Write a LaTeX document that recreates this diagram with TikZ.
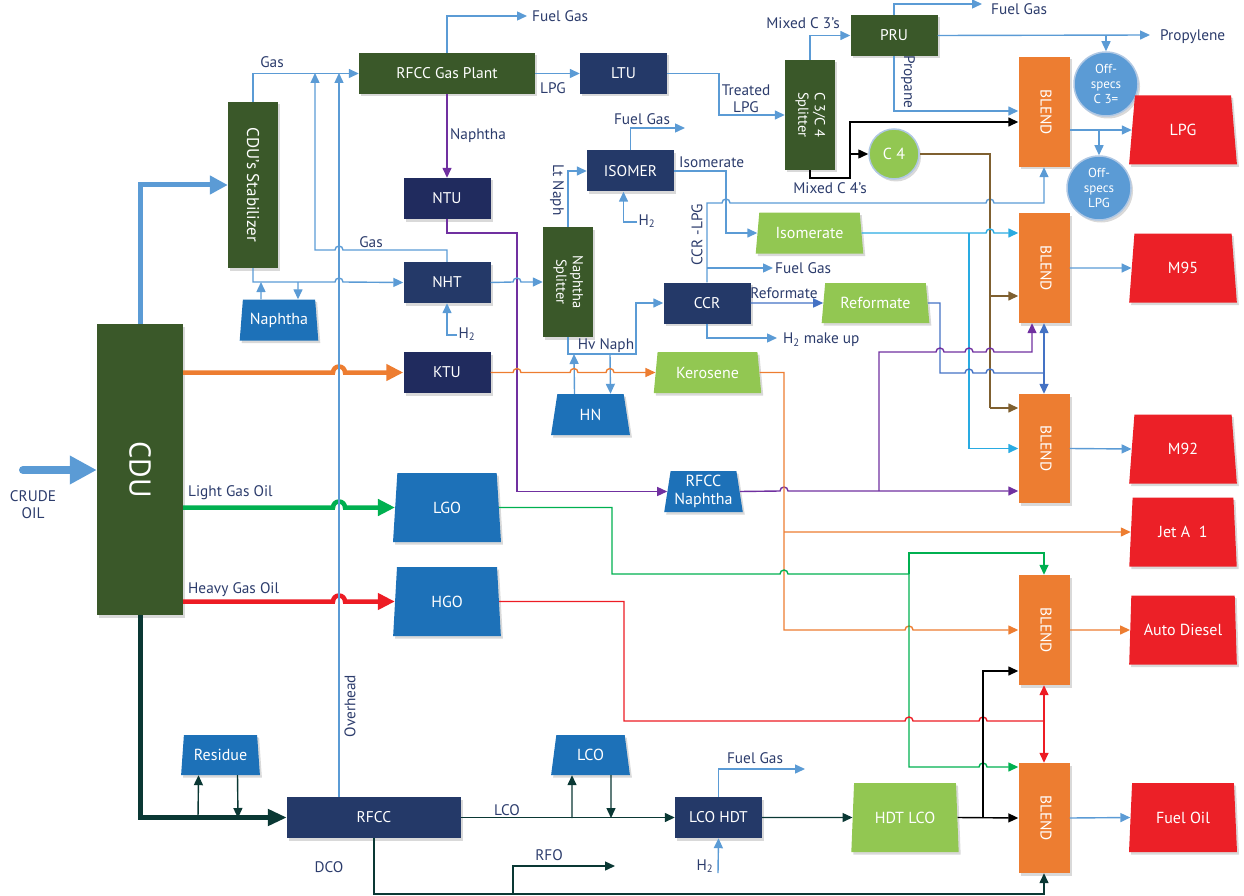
\documentclass[tikz,border=0pt]{standalone}
\usepackage{fontspec}
\setmainfont{PT Sans}
\usepackage{graphicx}
\usetikzlibrary{arrows.meta,positioning,shapes.geometric,shadows,calc}

% colours of the units and of the streams
\definecolor{colgreen}{RGB}{58,88,41}
\definecolor{unitnavy}{RGB}{36,57,104}
\definecolor{ntunavy}{RGB}{32,43,94}
\definecolor{tankblue}{RGB}{29,113,184}
\definecolor{prodgreen}{RGB}{146,199,82}
\definecolor{blendorange}{RGB}{237,125,49}
\definecolor{salered}{RGB}{236,32,39}
\definecolor{ballblue}{RGB}{91,155,213}
\definecolor{ballrim}{RGB}{176,200,228}
\definecolor{pipeblue}{RGB}{91,155,213}
\definecolor{refblue}{RGB}{68,114,196}
\definecolor{isocyan}{RGB}{41,171,226}
\definecolor{nphpurple}{RGB}{112,48,160}
\definecolor{cfourbrown}{RGB}{127,96,48}
\definecolor{kerorange}{RGB}{237,125,49}
\definecolor{lgogreen}{RGB}{0,176,80}
\definecolor{hgored}{RGB}{237,28,36}
\definecolor{resdark}{RGB}{10,56,52}
\definecolor{labelnavy}{RGB}{44,60,108}

\newcommand{\vtext}[1]{\rotatebox{-90}{\begin{tabular}{@{}c@{}}#1\end{tabular}}}
% small hops where a line crosses another one
\newcommand{\hop}[2]{-- (#1-4,#2) arc[start angle=180,end angle=0,radius=4pt]}
\newcommand{\hopl}[2]{-- (#1+4,#2) arc[start angle=0,end angle=180,radius=4pt]}
\newcommand{\hopb}[2]{-- (#1-6,#2) arc[start angle=180,end angle=0,radius=6pt]}

\begin{document}
\begin{tikzpicture}[x=1pt, y=-1pt,
  font=\fontsize{15.3}{17}\selectfont,
  boxshadow/.style={drop shadow={shadow xshift=2pt, shadow yshift=-2.5pt, opacity=0.3}},
  unit/.style={rectangle, fill=unitnavy, text=white, inner sep=0pt,
               minimum width=87pt, minimum height=41pt, boxshadow,
               font=\fontsize{15.5}{17}\selectfont},
  colbox/.style={unit, fill=colgreen, minimum width=50pt},
  blendbox/.style={unit, fill=blendorange, minimum width=51pt, minimum height=110pt,
                   font=\fontsize{15.5}{17}\selectfont},
  tankbox/.style={trapezium, trapezium stretches=true, trapezium angle=80,
                  fill=tankblue, text=white, inner sep=0pt, boxshadow, align=center,
                  minimum width=79pt, minimum height=41pt,
                  font=\fontsize{16}{17.5}\selectfont},
  bigtank/.style={tankbox, trapezium angle=84, minimum width=108pt, minimum height=69pt},
  prodbox/.style={tankbox, fill=prodgreen, trapezium angle=78, minimum width=108pt},
  salebox/.style={bigtank, fill=salered, trapezium angle=82},
  ball/.style={circle, fill=ballblue, draw=ballrim, line width=1.5pt, text=white,
               inner sep=0pt, align=center, minimum size=64pt, boxshadow,
               font=\fontsize{13}{15}\selectfont},
  lbl/.style={text=labelnavy, inner sep=0pt, align=center},
  ln/.style={line width=1.4pt, pipeblue},
  refln/.style={ln, refblue},
  isoln/.style={ln, isocyan},
  nphln/.style={ln, nphpurple},
  cfourln/.style={ln, cfourbrown},
  blkln/.style={ln, black},
  keroln/.style={ln, kerorange},
  lgoln/.style={ln, lgogreen},
  hgoln/.style={ln, hgored},
  resln/.style={ln, resdark},
  arr/.style={-{Triangle[length=10pt,width=9pt]}},
  bigarr/.style={line width=4.5pt, -{Triangle[length=17pt,width=16pt]}}
]
  \useasboundingbox (0,0) rectangle (1244,896);

  % ---- units ----
  \node[colbox, minimum width=86pt, minimum height=291pt] (cdu) at (140,469.5)
    {\rotatebox{-90}{\fontsize{30}{32}\selectfont CDU}};
  \node[colbox, minimum height=166pt] (stab) at (253,185)
    {\rotatebox{-90}{\fontsize{17}{19}\selectfont CDU’s Stabilizer}};
  \node[colbox, minimum width=176pt] (gasplant) at (447,73.5) {RFCC Gas Plant};
  \node[unit] (ltu) at (623.5,73.5) {LTU};
  \node[colbox, minimum height=110pt, font=\fontsize{14.5}{16.5}\selectfont] (splitc) at (810,115) {\vtext{C 3/C 4\\Splitter}};
  \node[colbox, minimum width=87pt] (pru) at (894,35.5) {PRU};
  \node[unit, fill=ntunavy] (ntu) at (447,198.5) {NTU};
  \node[unit] (isomer) at (630.5,171) {ISOMER};
  \node[colbox, minimum height=110pt, font=\fontsize{14.5}{16.5}\selectfont] (nsplit) at (568,282) {\vtext{Naphtha\\Splitter}};
  \node[unit] (nht) at (447,282.5) {NHT};
  \node[unit, fill=ntunavy] (ktu) at (447,372.5) {KTU};
  \node[unit] (ccr) at (707,303) {CCR};
  \node[unit, minimum width=174pt] (rfcc) at (374,817.5) {RFCC};
  \node[unit] (lcohdt) at (718.5,817.5) {LCO HDT};

  % ---- tanks ----
  \node[tankbox] (naph) at (279,320) {Naphtha};
  \node[tankbox] (hn) at (590.5,414.5) {HN};
  \node[tankbox] (rfccn) at (703.5,491.5) {RFCC\\Naphtha};
  \node[bigtank] (lgo) at (447,507.5) {LGO};
  \node[bigtank] (hgo) at (447,601.5) {HGO};
  \node[tankbox, minimum height=40pt] (residue) at (220.5,755) {Residue};
  \node[tankbox, minimum height=40pt] (lco) at (590.5,755) {LCO};
  \node[prodbox] (isomerate) at (809.5,233) {Isomerate};
  \node[prodbox, minimum height=40pt] (reformate) at (875.5,303) {Reformate};
  \node[prodbox] (kero) at (707.5,372.5) {Kerosene};
  \node[prodbox, trapezium angle=82, minimum height=69pt] (hdtlco) at (905,817.5) {HDT LCO};
  \node[ball] (offc) at (1106,84) {Off-\\specs\\C 3=};
  \node[ball] (offlpg) at (1099,188) {Off-\\specs\\LPG};
  \node[ball, fill=prodgreen, minimum size=50pt, font=\fontsize{16}{17}\selectfont] (cfour) at (894,154) {C 4};

  % ---- blenders and sales ----
  \node[blendbox] (blendlpg) at (1044,112) {\vtext{BLEND}};
  \node[blendbox] (blend95) at (1044,268) {\vtext{BLEND}};
  \node[blendbox, minimum height=109pt] (blend92) at (1044,448.5) {\vtext{BLEND}};
  \node[blendbox] (blendad) at (1044,630) {\vtext{BLEND}};
  \node[blendbox] (blendfo) at (1044,818) {\vtext{BLEND}};
  \node[salebox] (lpg) at (1183,130) {LPG};
  \node[salebox] (m95) at (1183,268) {M95};
  \node[salebox] (m92) at (1183,449) {M92};
  \node[salebox] (jet) at (1183,532) {Jet A\ \ 1};
  \node[salebox] (ad) at (1183,630) {Auto Diesel};
  \node[salebox] (fo) at (1183,817.5) {Fuel Oil};

  % ---- junctions and free ends ----
  \coordinate (crude) at (23,470);
  \coordinate (gasj1) at (315,73);
  \coordinate (gasj2) at (339,73);
  \coordinate (naj1) at (261,282);
  \coordinate (naj2) at (298,282);
  \coordinate (fg1) at (527,16);
  \coordinate (fg2) at (982,4);
  \coordinate (fg3) at (685,128);
  \coordinate (fg4) at (773,268);
  \coordinate (fg5) at (805,769);
  \coordinate (propy) at (1150,35);
  \coordinate (cthreej) at (1106,35);
  \coordinate (lpgj) at (1099,130);
  \coordinate (cfourj) at (850,154);
  \coordinate (htwoa) at (637,222);
  \coordinate (htwob) at (457,335);
  \coordinate (htwoc) at (718,873);
  \coordinate (htwomu) at (777,338);
  \coordinate (ccrj) at (707,268);
  \coordinate (hnj1) at (574,354);
  \coordinate (hnj2) at (610,354);
  \coordinate (refj) at (1044,373);
  \coordinate (isoj) at (969,233);
  \coordinate (cfj) at (990,296);
  \coordinate (cfk) at (990,408);
  \coordinate (nphj) at (879,491);
  \coordinate (jetj) at (784,532);
  \coordinate (lgoj) at (909,574);
  \coordinate (hgoj) at (1044,721);
  \coordinate (hdtj) at (983,818);
  \coordinate (resj1) at (198,818);
  \coordinate (resj2) at (238,818);
  \coordinate (lcoj1) at (572,818);
  \coordinate (lcoj2) at (611,818);
  \coordinate (dcoj) at (513,894);
  \coordinate (rfo) at (615,866);

  % ---- CDU feed and outlets ----
  \draw[pipeblue, line width=8pt, line cap=round, -{Triangle[length=27pt,width=27pt]}] (crude) -- (cdu.west |- crude);
  \draw[pipeblue, line width=5pt, -{Triangle[length=18pt,width=18pt]}] (cdu.north) |- (stab.west);
  \draw[kerorange, bigarr] (cdu.east |- ktu.west) \hopb{339}{372.5} -- (ktu.west);
  \draw[lgogreen, bigarr] (cdu.east |- lgo.west) \hopb{339}{507.5} -- (lgo.west);
  \draw[hgored, bigarr] (cdu.east |- hgo.west) \hopb{339}{601.5} -- (hgo.west);
  \draw[resdark, line width=5pt, -{Triangle[length=19pt,width=16pt]}] (cdu.south) |- (rfcc.west);
  \draw[resln, arr] (resj1) -- ([xshift=-22pt]residue.south);
  \draw[resln, arr] ([xshift=17pt]residue.south) -- (resj2);

  % ---- gas section ----
  \draw[ln, arr] (stab.north) |- (gasplant.west);
  \draw[ln, arr] (nht.north) -- (447,250) \hopl{339}{250} -- (315,250) -- (gasj1);
  \draw[ln, arr] ([xshift=-35pt]rfcc.north) -- (gasj2);
  \draw[ln, arr] (stab.south) -- (253,282) \hop{339}{282} -- (nht.west);
  \draw[ln, arr] ([xshift=-18pt]naph.north) -- (naj1);
  \draw[ln, arr] (naj2) -- ([xshift=19pt]naph.north);
  \draw[ln, arr] (gasplant.north) |- (fg1);
  \draw[ln, arr] (gasplant.east) -- (ltu.west);
  \draw[ln, arr] (ltu.east) -- (719,73.5) |- (splitc.west);
  \draw[ln, arr] (splitc.north) |- (pru.west);
  \draw[ln, arr] (pru.north) |- (fg2);
  \draw[ln, arr] (pru.east) -- (propy);
  \draw[ln, arr] (cthreej) -- (offc.north);
  \draw[ln, arr] (pru.south) |- ([yshift=1pt]blendlpg.west);
  \draw[blkln, arr] (splitc.south) |- (850,178) |- ([yshift=-10pt]blendlpg.west);
  \draw[blkln, arr] (cfourj) -- (cfour.west);
  \draw[ln, arr] (blendlpg.east |- lpg.west) -- (lpg.west);
  \draw[ln, arr] (lpgj) -- (offlpg.north);

  % ---- naphtha section ----
  \draw[nphln, arr] (gasplant.south) -- (ntu.north);
  \draw[nphln, arr] (ntu.south) |- (517,233) |- (rfccn.west);
  \draw[ln, arr] (nht.east) \hop{517}{282} -- (nsplit.west);
  \draw[ln, arr] (htwob) -| (nht.south);
  \draw[ln, arr] (nsplit.north) |- (isomer.west);
  \draw[ln, arr] (isomer.north) |- (fg3);
  \draw[ln, arr] (htwoa) -| ([xshift=-7pt]isomer.south);
  \draw[ln, arr] (isomer.east) -- (726,171) |- (isomerate.west);
  \draw[ln, arr] (nsplit.south) |- (636,354) |- (ccr.west);
  \draw[ln, arr] ([xshift=-16pt]hn.north) -- (hnj1);
  \draw[ln, arr] (hnj2) -- ([xshift=20pt]hn.north);
  \draw[ln, arr] (ccr.north) -- (707,203) \hop{726}{203} \hop{990}{203} -- (1044,203) -- (blendlpg.south);
  \draw[ln, arr] (ccrj) -- (fg4);
  \draw[ln, arr] (ccr.south) |- (htwomu);
  \draw[refln, arr] (ccr.east) -- (reformate.west);

  % ---- gasoline blending ----
  \draw[cfourln] (cfour.east) -| (cfk);
  \draw[cfourln, arr] (cfj) -- (blend95.west |- cfj);
  \draw[cfourln, arr] (cfk) -- (blend92.west |- cfk);
  \draw[isoln, arr] (isomerate.east) \hop{990}{233} -- (blend95.west |- isoj);
  \draw[isoln, arr] (isoj) |- (blend92.west);
  \draw[refln] (reformate.east) -- (940,303) -- (940,373) \hop{969}{373} \hop{990}{373} -- (refj);
  \draw[refln, arr] (refj) -- (blend95.south);
  \draw[refln, arr] (refj) -- (blend92.north);
  \draw[nphln, arr] (rfccn.east) \hop{784}{491} -- (blend92.west |- nphj);
  \draw[nphln, arr] (nphj) -- (879,352) \hop{940}{352} \hop{969}{352} \hop{990}{352} -- (1032,352) -- ([xshift=-12pt]blend95.south);
  \draw[ln, arr] (blend95.east) -- (m95.west);
  \draw[ln, arr] (blend92.east) -- (m92.west);

  % ---- kerosene and gas oils ----
  \draw[keroln, arr] (ktu.east) \hop{517}{372.5} \hop{574}{372.5} \hop{610}{372.5} -- (kero.west);
  \draw[keroln, arr] (kero.east) -| (784,630) \hop{909}{630} -- (blendad.west);
  \draw[keroln, arr] (jetj) -- (jet.west);
  \draw[keroln, arr] (blendad.east) -- (ad.west);
  \draw[lgoln] (lgo.east) -| (612,574) \hop{784}{574} -- (lgoj);
  \draw[lgoln, arr] (lgoj) -- (909,553) -| (blendad.north);
  \draw[lgoln, arr] (lgoj) -- (909,767) \hop{983}{767} -- ([yshift=51pt]blendfo.west);
  \draw[hgoln] (hgo.east) -| (624,721) \hop{909}{721} \hop{983}{721} -- (hgoj);
  \draw[hgoln, arr] (hgoj) -- (blendad.south);
  \draw[hgoln, arr] (hgoj) -- (blendfo.north);

  % ---- RFCC bottoms ----
  \draw[resln, arr] (rfcc.east) -- (lcohdt.west);
  \draw[resln, arr] (lcoj1) -- ([xshift=-18.5pt]lco.south);
  \draw[resln, arr] ([xshift=20.5pt]lco.south) -- (lcoj2);
  \draw[ln, arr] (lcohdt.north) |- (fg5);
  \draw[ln, arr] (htwoc) -- (lcohdt.south);
  \draw[resln, arr] (lcohdt.east) -- (hdtlco.west);
  \draw[blkln, arr] (hdtlco.east) -- (blendfo.west);
  \draw[blkln, arr] (hdtj) |- ([yshift=-41pt]blendad.west);
  \draw[resln, arr] (rfcc.south) |- (1044,894) -- (blendfo.south);
  \draw[resln, arr] (dcoj) |- (rfo);
  \draw[ln, arr] (blendfo.east) -- (fo.west);

  % ---- stream labels ----
  \node[lbl] (lblcrude) at (33,505) {CRUDE\\OIL};
  \node[lbl] (lblgas) at (272,62) {Gas};
  \node[lbl] (lblgasb) at (371,242) {Gas};
  \node[lbl, anchor=west] (lblfg1) at (532,16) {Fuel Gas};
  \node[lbl] (lbllpg) at (553,88) {LPG};
  \node[lbl] (lblnaph) at (478,136) {Naphtha};
  \node[lbl] (lbltreated) at (746,99) {Treated\\LPG};
  \node[lbl] (lblmcthree) at (803,23) {Mixed C 3's};
  \node[lbl, anchor=west] (lblfg2) at (991,9) {Fuel Gas};
  \node[lbl, anchor=west] (lblpropy) at (1160,37) {Propylene};
  \node[lbl, rotate=-90] (lblpropane) at (908,82) {Propane};
  \node[lbl] (lblmcfour) at (830,188) {Mixed C 4's};
  \node[lbl] (lblfg3) at (642,119) {Fuel Gas};
  \node[lbl, anchor=west] (lbliso) at (679,162) {Isomerate};
  \node[lbl] (lblhtwoa) at (647,221) {H\textsubscript{2}};
  \node[lbl, rotate=-90] (lbllt) at (557,190) {Lt Naph};
  \node[lbl, rotate=90] (lblccrlpg) at (697,235) {CCR -LPG};
  \node[lbl, anchor=west] (lblfg4) at (775,268) {Fuel Gas};
  \node[lbl] (lblref) at (784,293) {Reformate};
  \node[lbl, anchor=west] (lblmu) at (783,340) {H\textsubscript{2} make up};
  \node[lbl] (lblhv) at (606,346) {Hv Naph};
  \node[lbl] (lblhtwob) at (467,334) {H\textsubscript{2}};
  \node[lbl, anchor=west] (lbllgo) at (188,493) {Light Gas Oil};
  \node[lbl, anchor=west] (lblhgo) at (188,590) {Heavy Gas Oil};
  \node[lbl, rotate=90] (lblovh) at (350,706) {Overhead};
  \node[lbl] (lbldco) at (329,867) {DCO};
  \node[lbl] (lbllco) at (507,810) {LCO};
  \node[lbl] (lblrfo) at (549,855) {RFO};
  \node[lbl] (lblfg5) at (755,758) {Fuel Gas};
  \node[lbl] (lblhtwoc) at (705,866) {H\textsubscript{2}};
\end{tikzpicture}
\end{document}
